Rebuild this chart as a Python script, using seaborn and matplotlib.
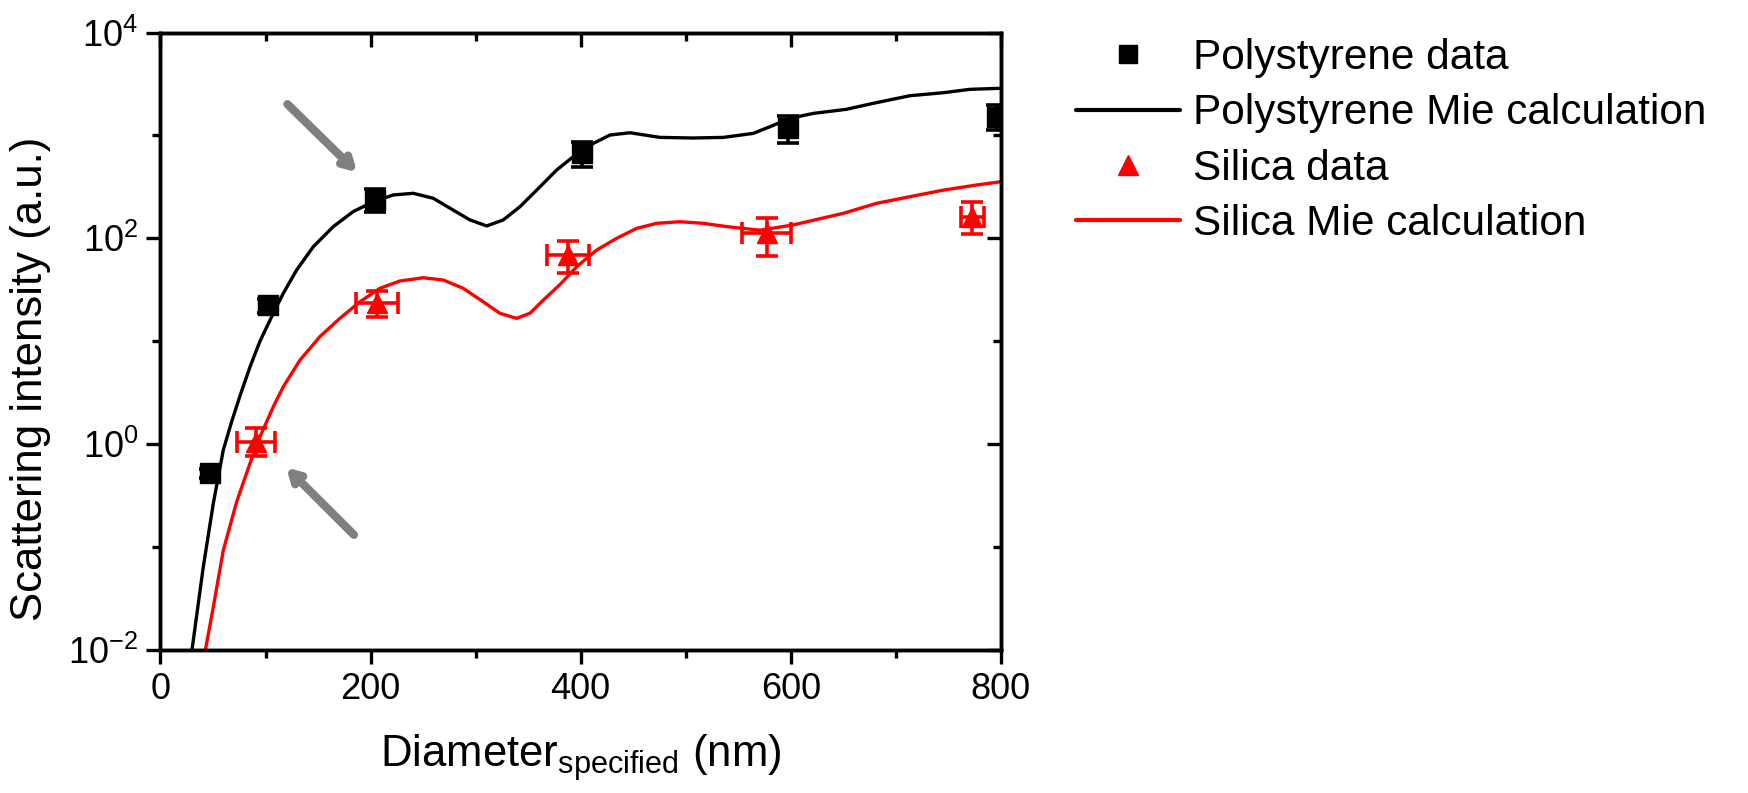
import numpy as np
import seaborn as sns
import matplotlib.pyplot as plt
from matplotlib.lines import Line2D
from matplotlib.ticker import FixedLocator, NullFormatter

# Polystyrene measured points (nm, a.u.)
ps_x = [47, 102.6, 204, 401, 597, 796]
ps_y = [0.52, 22.5, 236, 670, 1170, 1510]
ps_ylo = [0.05, 3.5, 57, 180, 330, 380]
ps_yhi = [0.05, 3.5, 64, 200, 390, 470]

# Silica measured points
si_x = [91, 206, 388, 577, 772.7]
si_y = [1.05, 23.3, 68.7, 112, 162]
si_xerr = [18, 20, 20, 23, 11]
si_ylo = [0.28, 6, 23, 44, 52]
si_yhi = [0.38, 7.6, 25, 45, 64]

# Mie calculation curves
ps_mie_x = [29.7, 40.8, 50.3, 59.8, 67.8, 75.7, 85.2, 94.7, 107.4, 116.9, 129.6,
            145.5, 164.5, 183.5, 202.6, 221.6, 240.6, 259.7, 278.7, 294.6, 310.5,
            326.3, 342.2, 358.1, 377.1, 392.9, 412, 427.9, 446.9, 475.5, 507.2,
            535.8, 564.3, 580.2, 599.2, 621.4, 653.1, 678.5, 713.4, 745.1, 770.5,
            800]
ps_mie_y = [0.0095, 0.0646, 0.266, 0.877, 1.66, 2.95, 5.62, 10.0, 18.7, 29.2, 49.2,
            83.0, 130, 182, 227, 264, 274, 245, 188, 151, 132,
            151, 203, 294, 461, 621, 837, 1009, 1062, 957, 944,
            957, 1047, 1216, 1466, 1637, 1795, 2051, 2432, 2600, 2805,
            2871]
si_mie_x = [42.4, 50.3, 59.8, 72.5, 85.2, 94.7, 107.4, 116.9, 132.8, 151.8, 170.8,
            189.9, 208.9, 227.9, 250.1, 269.1, 288.2, 307.2, 323.1, 339.0, 351.7,
            364.4, 380.2, 396.2, 415.2, 434.2, 453.3, 472.3, 494.5, 516.7, 538.9,
            570.6, 602.3, 649.9, 681.7, 713.4, 745.1, 776.9, 800]
si_mie_y = [0.0095, 0.0262, 0.093, 0.275, 0.650, 1.18, 2.31, 3.61, 6.56, 11.1, 16.7,
            24.2, 32.7, 38.5, 41.4, 39.4, 32.7, 24.2, 18.7, 16.7, 18.7,
            25.1, 35.5, 53.0, 76.9, 100, 125, 140, 145, 140, 130,
            120, 135, 175, 219, 254, 294, 330, 355]

# gray arrows: (tail, head) in data coordinates
arrows = [((119, 2100), (189, 420)), ((186, 0.126), (118, 0.62))]

sns.set_style("ticks")
plt.rcParams['font.family'] = ['Liberation Sans', 'DejaVu Sans']
plt.rcParams['mathtext.default'] = 'regular'
plt.rcParams['text.color'] = 'black'
plt.rcParams['axes.labelcolor'] = 'black'
plt.rcParams['axes.edgecolor'] = 'black'
plt.rcParams['xtick.color'] = 'black'
plt.rcParams['ytick.color'] = 'black'

fig = plt.figure(figsize=(17.48, 7.93), dpi=100)
ax = fig.add_axes([0.0918, 0.1803, 0.4808, 0.7787])

sns.lineplot(x=ps_mie_x, y=ps_mie_y, ax=ax, color='black', lw=2.4,
             sort=False, estimator=None)
sns.lineplot(x=si_mie_x, y=si_mie_y, ax=ax, color='red', lw=2.4,
             sort=False, estimator=None)

ax.errorbar(ps_x, ps_y, yerr=[ps_ylo, ps_yhi], fmt='s', color='black',
            ms=14, elinewidth=2.6, capsize=8, capthick=2.6, zorder=5)
ax.errorbar(si_x, si_y, xerr=si_xerr, yerr=[si_ylo, si_yhi], fmt='^',
            color='red', ms=14, elinewidth=2.6, capsize=8, capthick=2.6, zorder=5)

for tail, head in arrows:
    ax.annotate('', xy=head, xytext=tail,
                arrowprops=dict(arrowstyle='->,head_length=0.7,head_width=0.4',
                                color='#808080', lw=6))

ax.set_yscale('log')
ax.set_xlim(0, 800)
ax.set_ylim(1e-2, 1e4)
ax.yaxis.set_major_locator(FixedLocator([1e-2, 1e0, 1e2, 1e4]))
ax.yaxis.set_minor_locator(FixedLocator([1e-1, 1e1, 1e3]))
ax.yaxis.set_minor_formatter(NullFormatter())
ax.set_xticks([0, 200, 400, 600, 800])
ax.set_xticks([100, 300, 500, 700], minor=True)

for sp in ax.spines.values():
    sp.set_linewidth(2.4)
ax.tick_params(which='both', direction='out', width=2.4, labelsize=26)
ax.tick_params(which='major', length=10, pad=6)
ax.tick_params(which='minor', length=6)

# inward ticks on top and right
axt = ax.twiny()
axt.set_xlim(ax.get_xlim())
axt.set_xticks([0, 200, 400, 600, 800])
axt.set_xticks([100, 300, 500, 700], minor=True)
axt.tick_params(which='both', direction='in', width=2.4, labeltop=False)
axt.tick_params(which='major', length=10)
axt.tick_params(which='minor', length=6)
axr = ax.twinx()
axr.set_yscale('log')
axr.set_ylim(ax.get_ylim())
axr.yaxis.set_major_locator(FixedLocator([1e-2, 1e0, 1e2, 1e4]))
axr.yaxis.set_minor_locator(FixedLocator([1e-1, 1e1, 1e3]))
axr.tick_params(which='both', direction='in', width=2.4, labelright=False)
axr.tick_params(which='major', length=10)
axr.tick_params(which='minor', length=6)
for a in (axt, axr):
    for sp in a.spines.values():
        sp.set_linewidth(2.4)

ax.set_xlabel('Diameter$_{specified}$ (nm)', fontsize=31.5, labelpad=18)
ax.set_ylabel('Scattering intensity (a.u.)', fontsize=31.5)
ax.yaxis.set_label_coords(-0.13, 0.44)

handles = [
    Line2D([], [], ls='none', marker='s', color='black', ms=13),
    Line2D([], [], color='black', lw=3),
    Line2D([], [], ls='none', marker='^', color='red', ms=14),
    Line2D([], [], color='red', lw=3),
]
labels = ['Polystyrene data', 'Polystyrene Mie calculation',
          'Silica data', 'Silica Mie calculation']
fig.legend(handles, labels, loc='upper left', bbox_to_anchor=(0.594, 1.0),
           frameon=False, fontsize=30.5, handlelength=2.45, handletextpad=0.3,
           labelspacing=0.36)

fig.savefig('out.png', dpi=100)
